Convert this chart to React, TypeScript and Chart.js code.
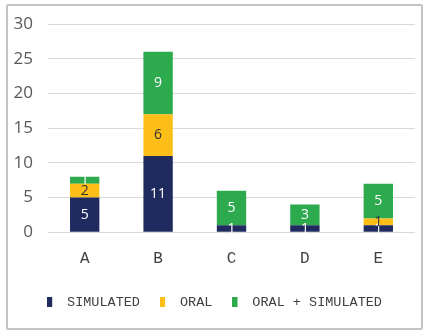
import React, { useEffect, useRef } from "react";
import { Chart, registerables } from "chart.js";

Chart.register(...registerables);

const categories = ["A", "B", "C", "D", "E"];
const simulated = [5, 11, 1, 1, 1];
const oral = [2, 6, 0, 0, 1];
const oralSimulated = [1, 9, 5, 3, 5];
const yTicks = [0, 5, 10, 15, 20, 25, 30];

const colors = ["#1f2b5e", "#fdbf17", "#2daa4e"];
const labelColors = ["#ffffff", "#333333", "#ffffff"];

function makeBox(color: string) {
  const c = document.createElement("canvas");
  c.width = 13;
  c.height = 10;
  const g = c.getContext("2d")!;
  g.fillStyle = color;
  g.fillRect(0, 0, 5, 10);
  return c;
}

const labelPlugin = {
  id: "barLabels",
  afterDatasetsDraw(chart: any) {
    const ctx = chart.ctx;
    ctx.save();
    ctx.font = "14px 'Open Sans', sans-serif";
    ctx.textAlign = "center";
    ctx.textBaseline = "middle";
    chart.data.datasets.forEach((ds: any, i: number) => {
      const meta = chart.getDatasetMeta(i);
      ctx.fillStyle = labelColors[i];
      meta.data.forEach((bar: any, j: number) => {
        const v = ds.data[j];
        if (!v) return;
        const y = (bar.y + bar.base) / 2;
        ctx.fillText(String(v), bar.x, y);
      });
    });
    ctx.restore();
  },
};

export default function App() {
  const ref = useRef<HTMLCanvasElement>(null);
  useEffect(() => {
    if (!ref.current) return;
    const boxes = colors.map(makeBox);
    const chart = new Chart(ref.current, {
      type: "bar",
      data: {
        labels: categories,
        datasets: [
          { label: "SIMULATED", data: simulated, backgroundColor: colors[0] },
          { label: "ORAL", data: oral, backgroundColor: colors[1] },
          { label: "ORAL + SIMULATED", data: oralSimulated, backgroundColor: colors[2] },
        ],
      },
      options: {
        animation: false,
        responsive: false,
        maintainAspectRatio: false,
        layout: { padding: { left: 6, right: 4, top: 18, bottom: 7 } },
        datasets: { bar: { barPercentage: 0.4, categoryPercentage: 1 } } as any,
        scales: {
          x: {
            stacked: true,
            grid: { display: false },
            border: { display: false },
            afterFit: (axis: any) => {
              axis.height -= 2;
            },
            ticks: {
              color: "#404040",
              font: { family: "'Liberation Mono', monospace", size: 16 },
              padding: 9,
            },
          },
          y: {
            stacked: true,
            min: 0,
            max: 30,
            afterBuildTicks: (axis: any) => {
              axis.ticks = yTicks.map((v) => ({ value: v }));
            },
            afterFit: (axis: any) => {
              axis.width = 34;
              axis.paddingTop = 0;
            },
            grid: { color: "#d9d9d9", drawTicks: false, lineWidth: 1 },
            border: { display: false },
            ticks: {
              color: "#595959",
              font: { family: "'Open Sans', sans-serif", size: 17 },
              padding: 15,
            },
          },
        },
        plugins: {
          legend: {
            position: "bottom",
            labels: {
              color: "#404040",
              font: { family: "'Liberation Mono', monospace", size: 13.5 },
              usePointStyle: true,
              pointStyleWidth: 13.25,
              boxHeight: 10,
              padding: 20,
              generateLabels: (ch: any) =>
                ch.data.datasets.map((ds: any, i: number) => ({
                  text: ds.label,
                  fillStyle: colors[i],
                  strokeStyle: colors[i],
                  lineWidth: 0,
                  pointStyle: boxes[i],
                  datasetIndex: i,
                  hidden: false,
                  fontColor: "#404040",
                })),
            },
          },
          tooltip: { enabled: false },
        },
      },
      plugins: [labelPlugin],
    });
    return () => chart.destroy();
  }, []);
  return (
    <div style={{ position: "fixed", left: 0, top: 0, width: 427, height: 334, background: "#fff" }}>
      <div
        style={{
          position: "absolute",
          left: 6,
          top: 4,
          width: 413,
          height: 322,
          border: "2px solid #c4c4c4",
          borderRadius: 2,
        }}
      />
      <canvas
        ref={ref}
        width={411}
        height={320}
        style={{ position: "absolute", left: 8, top: 6, width: 411, height: 320 }}
      />
    </div>
  );
}
